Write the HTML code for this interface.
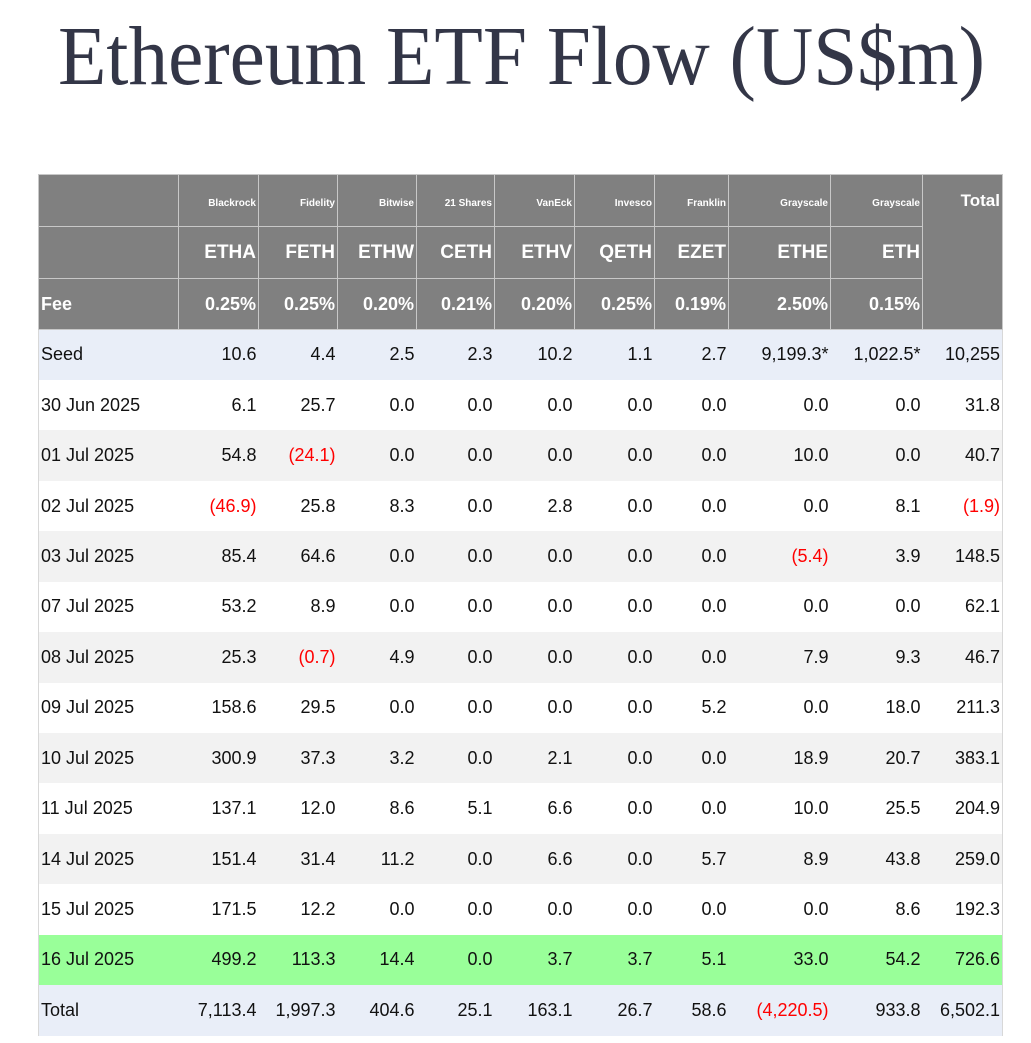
<!DOCTYPE html>
<html><head><meta charset="utf-8">
<style>
html,body{margin:0;padding:0;background:#fff;width:1031px;height:1043px;overflow:hidden;font-family:"Liberation Sans",sans-serif;}
#title{position:absolute;left:0;top:0;}
#tbl{position:absolute;left:38px;top:174px;border-collapse:collapse;table-layout:fixed;border-left:1px solid #d8d8d8;border-right:1px solid #d8d8d8;}
#tbl td{padding:0 2px;text-align:right;font-size:18px;color:#111;white-space:nowrap;overflow:hidden;box-sizing:border-box;}
#tbl td:first-child{text-align:left;}
#tbl tr.h td{background:#808080;color:#fff;font-weight:bold;border:1px solid #c8c8c8;}
#tbl tr.h1 td{height:52px;font-size:10px;vertical-align:middle;padding-top:6px;line-height:12px;}
#tbl tr.h2 td{height:52px;font-size:19px;}
#tbl tr.h3 td{height:51px;font-size:18px;}
#tbl tr.d td{height:50.45px;}
.neg{color:#f00 !important;}
</style></head><body>
<svg id="title" width="1031" height="130">
<text x="58" y="84" font-family="Liberation Serif, serif" font-size="84" fill="#333647" textLength="927" lengthAdjust="spacingAndGlyphs">Ethereum ETF Flow (US$m)</text>
</svg>
<table id="tbl">
<colgroup><col style="width:140px"><col style="width:80px"><col style="width:79px"><col style="width:79px"><col style="width:78px"><col style="width:80px"><col style="width:80px"><col style="width:74px"><col style="width:102px"><col style="width:92px"><col style="width:80px"></colgroup>
<tbody id="tb"></tbody>
</table>
<script>
const issuers=["Blackrock","Fidelity","Bitwise","21 Shares","VanEck","Invesco","Franklin","Grayscale","Grayscale"];
const tickers=["ETHA","FETH","ETHW","CETH","ETHV","QETH","EZET","ETHE","ETH"];
const fees=["0.25%","0.25%","0.20%","0.21%","0.20%","0.25%","0.19%","2.50%","0.15%"];
const dates=["Seed","30 Jun 2025","01 Jul 2025","02 Jul 2025","03 Jul 2025","07 Jul 2025","08 Jul 2025","09 Jul 2025","10 Jul 2025","11 Jul 2025","14 Jul 2025","15 Jul 2025","16 Jul 2025","Total"];
const rows=[
["10.6","4.4","2.5","2.3","10.2","1.1","2.7","9,199.3*","1,022.5*","10,255"],
["6.1","25.7","0.0","0.0","0.0","0.0","0.0","0.0","0.0","31.8"],
["54.8","(24.1)","0.0","0.0","0.0","0.0","0.0","10.0","0.0","40.7"],
["(46.9)","25.8","8.3","0.0","2.8","0.0","0.0","0.0","8.1","(1.9)"],
["85.4","64.6","0.0","0.0","0.0","0.0","0.0","(5.4)","3.9","148.5"],
["53.2","8.9","0.0","0.0","0.0","0.0","0.0","0.0","0.0","62.1"],
["25.3","(0.7)","4.9","0.0","0.0","0.0","0.0","7.9","9.3","46.7"],
["158.6","29.5","0.0","0.0","0.0","0.0","5.2","0.0","18.0","211.3"],
["300.9","37.3","3.2","0.0","2.1","0.0","0.0","18.9","20.7","383.1"],
["137.1","12.0","8.6","5.1","6.6","0.0","0.0","10.0","25.5","204.9"],
["151.4","31.4","11.2","0.0","6.6","0.0","5.7","8.9","43.8","259.0"],
["171.5","12.2","0.0","0.0","0.0","0.0","0.0","0.0","8.6","192.3"],
["499.2","113.3","14.4","0.0","3.7","3.7","5.1","33.0","54.2","726.6"],
["7,113.4","1,997.3","404.6","25.1","163.1","26.7","58.6","(4,220.5)","933.8","6,502.1"]];
const bgs=["#e9eef8","#fff","#f2f2f2","#fff","#f2f2f2","#fff","#f2f2f2","#fff","#f2f2f2","#fff","#f2f2f2","#fff","#99ff99","#e9eef8"];
const tb=document.getElementById('tb');
function mk(tr,txt,name){const td=document.createElement('td');td.textContent=txt;


tr.appendChild(td);return td;}
let tr=document.createElement('tr');tr.className='h h1';


mk(tr,'','header-corner');issuers.forEach(s=>mk(tr,s,'issuer-header'));
let tot=mk(tr,'Total','total-header');tot.rowSpan=3;tot.style.fontSize='17px';tot.style.verticalAlign='top';tot.style.paddingTop='20px';
tb.appendChild(tr);
tr=document.createElement('tr');tr.className='h h2';


mk(tr,'','header-blank');tickers.forEach(s=>mk(tr,s,'ticker-header'));tb.appendChild(tr);
tr=document.createElement('tr');tr.className='h h3';


mk(tr,'Fee','fee-label');fees.forEach(s=>mk(tr,s,'fee-value'));tb.appendChild(tr);
dates.forEach((d,i)=>{tr=document.createElement('tr');tr.className='d';tr.style.background=bgs[i];


mk(tr,d,'row-date');rows[i].forEach(v=>{const td=mk(tr,v,'flow-cell');if(v.startsWith('('))td.className='neg';});tb.appendChild(tr);});
</script>
</body></html>
